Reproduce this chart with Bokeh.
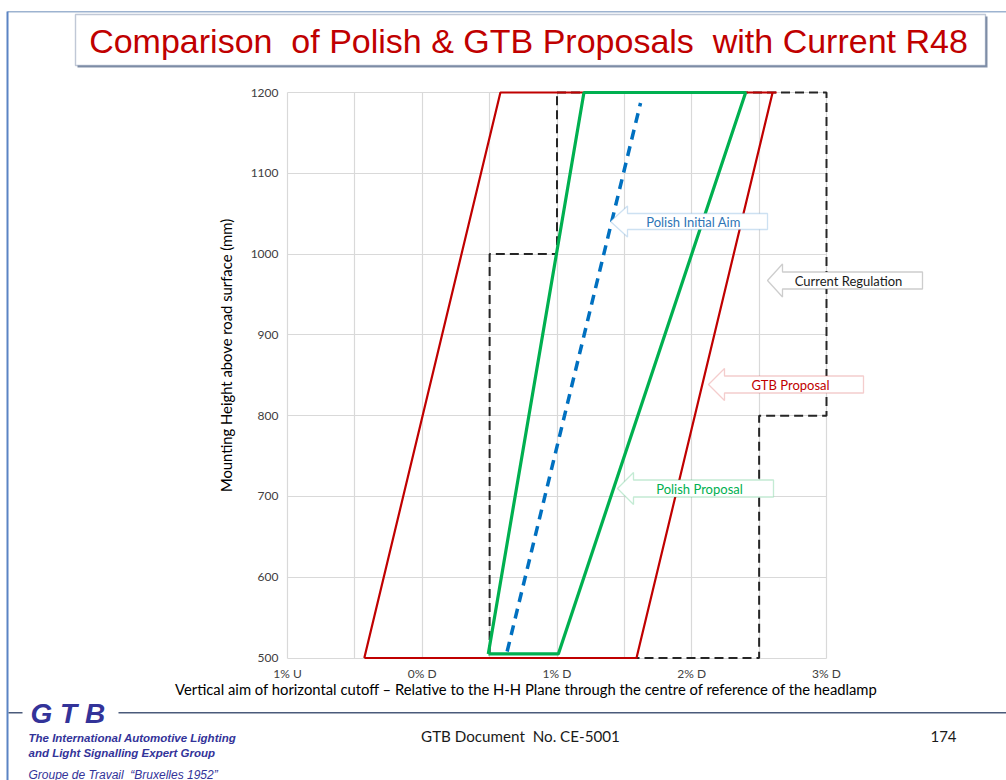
import math
from bokeh.plotting import figure
from bokeh.models import (Range1d, FixedTicker, Label, BoxAnnotation, PolyAnnotation)
from bokeh.embed import file_html
from bokeh.resources import INLINE

# ---------------- data ----------------
x_ticks = [-1, 0, 1, 2, 3]
x_tick_labels = ["1% U", "0% D", "1% D", "2% D", "3% D"]
x_grid = [-1, -0.5, 0, 0.5, 1, 1.5, 2, 2.5, 3]
y_ticks = [500, 600, 700, 800, 900, 1000, 1100, 1200]

# Current Regulation (black dashed outline)
reg_x = [1.0, 3.0, 3.0, 2.5, 2.5, 0.5, 0.5, 1.0, 1.0]
reg_y = [1200, 1200, 800, 800, 500, 500, 1000, 1000, 1200]

# GTB Proposal (red)
gtb_x = [-0.43, 0.58, 2.63, 2.60, 1.59, -0.43]
gtb_y = [500, 1200, 1200, 1200, 500, 500]

# Polish Proposal (green)
pol_x = [0.49, 1.20, 2.40, 1.01, 0.49]
pol_y = [505, 1200, 1200, 505, 505]

# Polish Initial Aim (blue dashed)
aim_x = [0.63, 1.62]
aim_y = [508, 1187]

# ---------------- page geometry (image pixels) ----------------
W, H = 1006, 780
PX_M1 = 287          # image x of -1 %
SX = 134.75          # px per 1 %
PY_1200 = 92         # image y of 1200 mm
SY = 565.5 / 700.0   # px per mm

X_START = -1 - PX_M1 / SX
X_END = -1 + (W - PX_M1) / SX
Y_END = 1200 + PY_1200 / SY
Y_START = 1200 - (H - PY_1200) / SY


def dx(px):
    return X_START + px / SX


def dy(py):
    return 1200 - (py - PY_1200) / SY


p = figure(width=W, height=H, output_backend="svg", toolbar_location=None,
           x_range=Range1d(X_START, X_END), y_range=Range1d(Y_START, Y_END),
           min_border=0, min_border_left=0, min_border_right=0,
           min_border_top=0, min_border_bottom=0)
p.outline_line_color = None
p.background_fill_color = "white"
p.border_fill_color = "white"

for ax in (p.xaxis[0], p.yaxis[0]):
    ax.axis_line_color = None
    ax.major_tick_line_color = None
    ax.minor_tick_line_color = None
    ax.major_tick_out = 0
    ax.major_tick_in = 0
    ax.minor_tick_out = 0
    ax.minor_tick_in = 0
    ax.major_label_text_font = "Lato"
    ax.major_label_text_font_size = "12px"
    ax.major_label_text_color = "#404040"

p.xaxis.ticker = FixedTicker(ticks=x_ticks)
p.xaxis.major_label_overrides = {t: l for t, l in zip(x_ticks, x_tick_labels)}
p.xaxis.major_label_standoff = 8
p.xaxis.fixed_location = 500
p.yaxis.ticker = FixedTicker(ticks=y_ticks)
p.yaxis.major_label_standoff = 9
p.yaxis.fixed_location = -1

p.xgrid.ticker = FixedTicker(ticks=x_grid)
p.ygrid.ticker = FixedTicker(ticks=y_ticks)
p.xgrid.cross_bounds = (500, 1200)
p.ygrid.cross_bounds = (-1, 3)
p.xgrid.grid_line_color = "#D9D9D9"
p.ygrid.grid_line_color = "#D9D9D9"
p.xgrid.grid_line_width = 1.2
p.ygrid.grid_line_width = 1.2

# ---------------- series ----------------
p.line(reg_x, reg_y, line_color="#262626", line_width=2, line_dash="9 5")
p.line(gtb_x, gtb_y, line_color="#C00000", line_width=2.2)
p.line(pol_x, pol_y, line_color="#00B050", line_width=3.2)
p.line(aim_x, aim_y, line_color="#0070C0", line_width=3.5, line_dash="10 7")

# ---------------- callouts ----------------
def callout(tip_x, tip_y, head_x, right_x, hh, bh, text, text_cx, line_col, text_col):
    xs = [tip_x, head_x, head_x, right_x, right_x, head_x, head_x]
    ys = [tip_y, tip_y - hh, tip_y - bh, tip_y - bh, tip_y + bh, tip_y + bh, tip_y + hh]
    p.add_layout(PolyAnnotation(xs=[dx(v) for v in xs], ys=[dy(v) for v in ys],
                                fill_color="white", fill_alpha=1.0,
                                line_color=line_col, line_width=1.3))
    p.add_layout(Label(x=dx(text_cx), y=dy(tip_y), text=text, text_align="center",
                       text_baseline="middle", text_font="Lato", text_font_size="13px",
                       text_color=text_col))

callout(610, 221, 627, 767, 15.5, 8, "Polish Initial Aim", 693, "#5B9BD5", "#2E75B6")
callout(767, 280, 782, 922, 16.5, 8.5, "Current Regulation", 848, "#595959", "#1A1A1A")
callout(708, 384, 724, 863, 16, 8.5, "GTB Proposal", 790, "#DB5B5B", "#C00000")
callout(617, 488, 633, 773, 16, 8.5, "Polish Proposal", 699, "#3DBE72", "#00B050")

# ---------------- axis titles ----------------
p.add_layout(Label(x=dx(225), y=dy(355), text="Mounting Height above road surface (mm)",
                   angle=math.pi / 2, text_align="center", text_baseline="middle",
                   text_font="Lato", text_font_size="14.8px", text_color="#000000"))
p.add_layout(Label(x=dx(526), y=dy(688),
                   text="Vertical aim of horizontal cutoff \u2013 Relative to the H-H Plane through the centre of reference of the headlamp",
                   text_align="center", text_baseline="middle",
                   text_font="Lato", text_font_size="14.8px", text_color="#000000"))

# ---------------- slide decoration ----------------
def rect(l, r, t, b, color, alpha=1.0, line=None, lw=1.0):
    p.add_layout(BoxAnnotation(left=dx(l), right=dx(r), top=dy(t), bottom=dy(b),
                               fill_color=color, fill_alpha=alpha,
                               line_color=line, line_width=lw))

rect(7, 1006, 10.5, 12, "#9DB3D0")          # top slide line
rect(6, 8, 11, 780, "#5B84C4")              # left slide line
rect(8, 22, 711.5, 713, "#4A5A7A")          # footer line (left stub)
rect(118, 1006, 711.5, 713, "#4A5A7A")      # footer line

# title box with shadow
rect(77, 987, 16, 67, "#6F7F9A", 0.85)
rect(75, 985, 14, 65, "white", 1.0, "#2F4A78", 1.4)
p.add_layout(Label(x=dx(528), y=dy(40),
                   text="Comparison\u00a0 of Polish & GTB Proposals\u00a0 with Current R48",
                   text_align="center", text_baseline="middle",
                   text_font="Liberation Sans", text_font_size="34px", text_color="#C00000"))

# footer
p.add_layout(Label(x=dx(30), y=dy(713), text="G T B", text_align="left", text_baseline="middle",
                   text_font="Liberation Sans", text_font_style="bold italic",
                   text_font_size="28px", text_color="#333399"))
for txt, yy, style, fs in [("The International Automotive Lighting", 737, "bold italic", "11.5px"),
                           ("and Light Signalling Expert Group", 752, "bold italic", "11.5px"),
                           ("Groupe de Travail\u00a0 \u201cBruxelles 1952\u201d", 774, "italic", "12px")]:
    p.add_layout(Label(x=dx(28), y=dy(yy), text=txt, text_align="left", text_baseline="middle",
                       text_font="Liberation Sans", text_font_style=style,
                       text_font_size=fs, text_color="#333399"))
p.add_layout(Label(x=dx(520), y=dy(735), text="GTB Document\u00a0 No. CE-5001", text_align="center",
                   text_baseline="middle", text_font="Lato", text_font_size="15.2px",
                   text_color="#1A1A1A"))
p.add_layout(Label(x=dx(943), y=dy(736), text="174", text_align="center",
                   text_baseline="middle", text_font="Lato", text_font_size="15px",
                   text_color="#1A1A1A"))

open("out.html", "w").write(file_html(p, INLINE))
